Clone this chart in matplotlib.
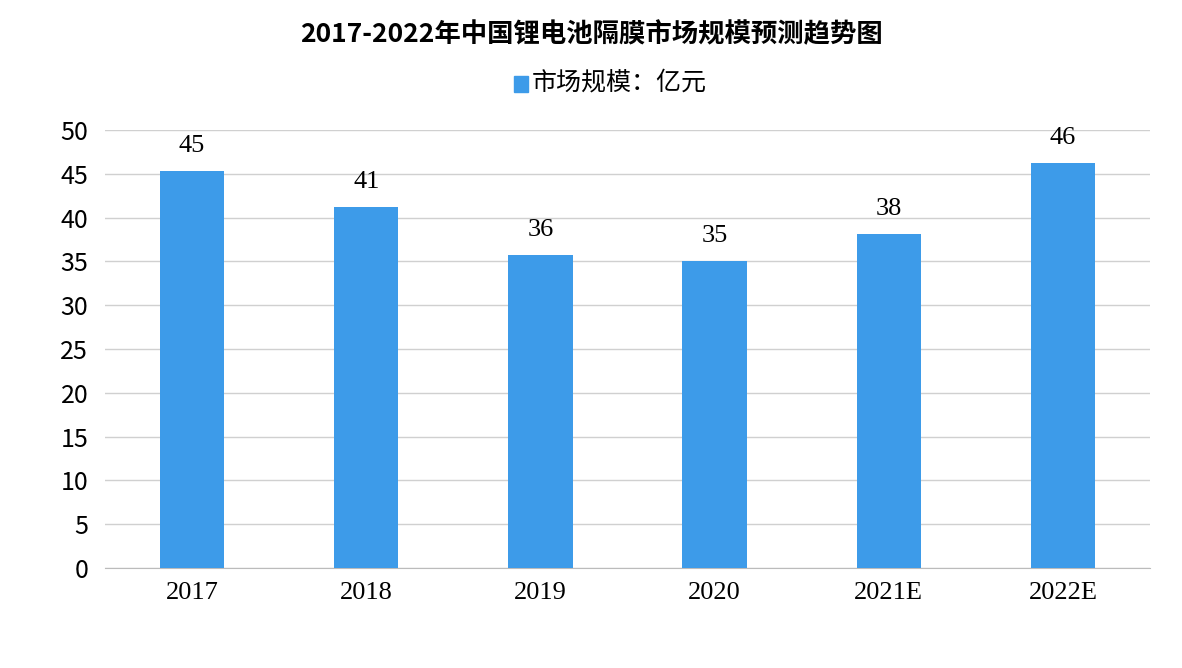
import matplotlib
matplotlib.use("Agg")
import matplotlib.pyplot as plt

plt.rcParams['font.family'] = ['Noto Sans CJK SC', 'DejaVu Sans']

years = ["2017", "2018", "2019", "2020", "2021E", "2022E"]
market_size = [45.3, 41.2, 35.7, 35.0, 38.1, 46.2]
value_labels = ["45", "41", "36", "35", "38", "46"]

fig = plt.figure(figsize=(11.82, 6.68), dpi=100)
ax = fig.add_axes([105 / 1182, 1 - 568 / 668, 1045 / 1182, 438 / 668])

x = range(len(years))
bars = ax.bar(x, market_size, width=0.37, color="#3d9be9", zorder=3)
for b, lab in zip(bars, value_labels):
    ax.text(b.get_x() + b.get_width() / 2, b.get_height() + 1.6, lab,
            ha="center", va="bottom", fontsize=19, family="Liberation Serif")

ax.set_xlim(-0.5, len(years) - 0.5)
ax.set_ylim(0, 50)
ax.set_yticks(range(0, 51, 5))
ax.yaxis.grid(True, color="#d0d0d0", linewidth=1, zorder=0)
ax.set_xticks(list(x))
ax.set_xticklabels(years, fontsize=19, family="Liberation Serif")
ax.tick_params(axis="y", labelsize=18, length=0, pad=12)
ax.tick_params(axis="x", length=0, pad=10)
for s in ["top", "right", "left"]:
    ax.spines[s].set_visible(False)
ax.spines["bottom"].set_color("#bbbbbb")

fig.text(0.5, 1 - 35 / 668, "2017-2022年中国锂电池隔膜市场规模预测趋势图",
         ha="center", va="center", fontsize=19, fontweight="bold")
fig.patches.append(plt.Rectangle((514 / 1182, 1 - 92 / 668), 14 / 1182, 16 / 668,
                                 transform=fig.transFigure, color="#3d9be9"))
fig.text(532 / 1182, 1 - 83 / 668, "市场规模：亿元", ha="left", va="center", fontsize=18)

fig.savefig("out.png", dpi=100)
